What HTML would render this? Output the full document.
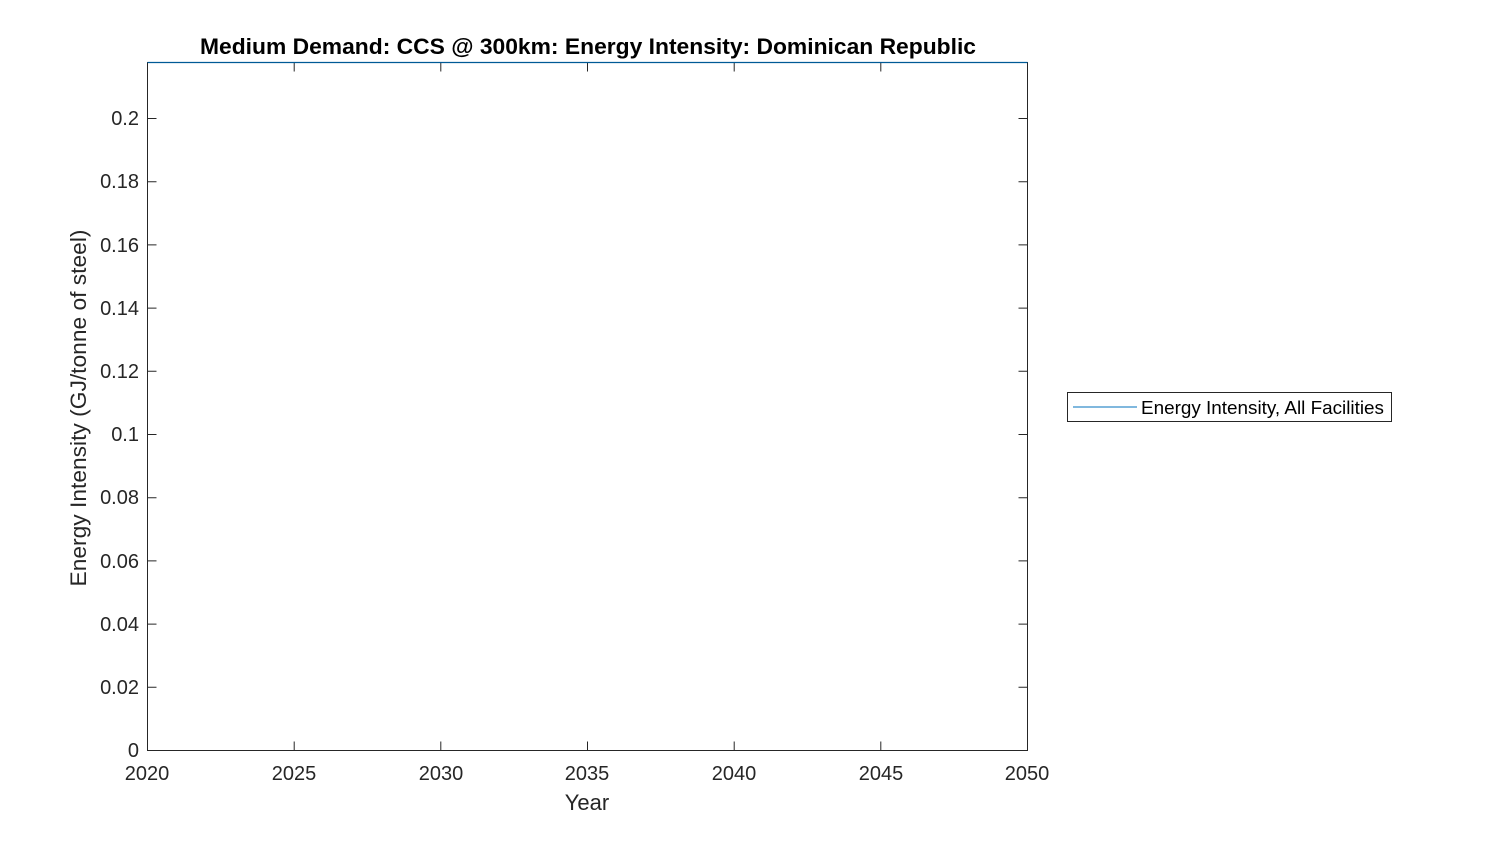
<!DOCTYPE html>
<html><head><style>body{margin:0;background:#fff}</style></head><body>
<svg width="1500" height="844" xmlns="http://www.w3.org/2000/svg" font-family="Liberation Sans, Arial, sans-serif">
<rect width="1500" height="844" fill="#fff"/>
<text x="588" y="54" text-anchor="middle" font-size="22" font-weight="bold" textLength="776" lengthAdjust="spacingAndGlyphs">Medium Demand: CCS @ 300km: Energy Intensity: Dominican Republic</text>
<g stroke="#262626" stroke-width="1" fill="none">
<rect x="147.5" y="62.5" width="880" height="688"/>
<path d="M294.2 750.5v-9M440.8 750.5v-9M587.5 750.5v-9M734.2 750.5v-9M880.8 750.5v-9M294.2 62.5v9M440.8 62.5v9M587.5 62.5v9M734.2 62.5v9M880.8 62.5v9"/>
<path d="M147.5 687.3h9M147.5 624.1h9M147.5 560.9h9M147.5 497.7h9M147.5 434.5h9M147.5 371.3h9M147.5 308.1h9M147.5 244.9h9M147.5 181.7h9M147.5 118.5h9M1027.5 687.3h-9M1027.5 624.1h-9M1027.5 560.9h-9M1027.5 497.7h-9M1027.5 434.5h-9M1027.5 371.3h-9M1027.5 308.1h-9M1027.5 244.9h-9M1027.5 181.7h-9M1027.5 118.5h-9"/>
</g>
<line x1="147.5" y1="62.5" x2="1027.5" y2="62.5" stroke="#005a96" stroke-width="1.3"/>
<g font-size="20" fill="#262626" text-anchor="middle">
<text x="147" y="780">2020</text><text x="294" y="780">2025</text><text x="441" y="780">2030</text><text x="587" y="780">2035</text><text x="734" y="780">2040</text><text x="881" y="780">2045</text><text x="1027" y="780">2050</text>
<text x="587" y="810" font-size="22">Year</text>
</g>
<g font-size="20" fill="#262626" text-anchor="end">
<text x="139" y="757">0</text><text x="139" y="694">0.02</text><text x="139" y="631">0.04</text><text x="139" y="568">0.06</text><text x="139" y="504">0.08</text><text x="139" y="441">0.1</text><text x="139" y="378">0.12</text><text x="139" y="315">0.14</text><text x="139" y="252">0.16</text><text x="139" y="188">0.18</text><text x="139" y="125">0.2</text>
</g>
<text transform="translate(86,408) rotate(-90)" text-anchor="middle" font-size="22" fill="#262626" textLength="357" lengthAdjust="spacingAndGlyphs">Energy Intensity (GJ/tonne of steel)</text>
<rect x="1067.5" y="392.5" width="324" height="29" fill="#fff" stroke="#262626"/>
<line x1="1073" y1="407" x2="1137" y2="407" stroke="#0072bd" stroke-width="1"/>
<text x="1141" y="414" font-size="18.5" fill="#000" textLength="243" lengthAdjust="spacingAndGlyphs">Energy Intensity, All Facilities</text>
</svg>
</body></html>
